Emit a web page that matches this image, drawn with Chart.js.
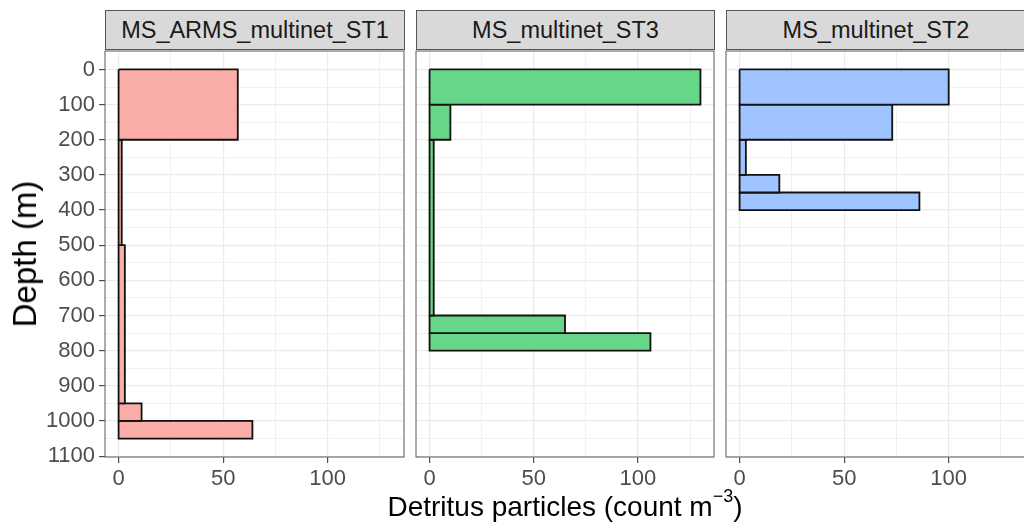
<!DOCTYPE html>
<html><head><meta charset="utf-8">
<script src="https://cdn.jsdelivr.net/npm/chart.js@4.4.1/dist/chart.umd.min.js"></script>
<style>
html,body{margin:0;padding:0;background:#fff;width:1024px;height:531px;overflow:hidden;position:relative;font-family:"Liberation Sans",Arial,sans-serif;}
.panel{position:absolute;top:50px;height:450px;}
.strip{position:absolute;top:10px;height:40px;background:#D9D9D9;border:1px solid #555;box-sizing:border-box;color:#1A1A1A;font-size:23.5px;line-height:38px;text-align:center;white-space:nowrap;}
#ytitle{position:absolute;left:25px;top:254px;transform:translate(-50%,-50%) rotate(-90deg);font-size:33px;color:#000;white-space:nowrap;}
#xtitle{position:absolute;left:565px;top:506px;transform:translate(-50%,-50%);font-size:28px;color:#000;white-space:nowrap;}
#xtitle sup{font-size:18px;position:relative;top:-3px;}
</style></head>
<body>
<div class="strip" id="s1" style="left:105px;width:300px;"></div>
<div class="strip" id="s2" style="left:416px;width:299px;"></div>
<div class="strip" id="s3" style="left:726px;width:300px;"></div>
<div class="panel" style="left:0px;width:406px;"><canvas id="c1"></canvas></div>
<div class="panel" style="left:414px;width:302px;"><canvas id="c2"></canvas></div>
<div class="panel" style="left:724px;width:303px;"><canvas id="c3"></canvas></div>
<div id="ytitle">Depth (m)</div>
<div id="xtitle">Detritus particles (count m<sup>−3</sup>)</div>
<script>
// ---- data ----
const categories = ['MS_ARMS_multinet_ST1', 'MS_multinet_ST3', 'MS_multinet_ST2'];
const st1DepthTop    = [0, 200, 500, 950, 1000];
const st1DepthBottom = [200, 500, 950, 1000, 1050];
const st1Values      = [57, 1.5, 3, 11, 64];
const st3DepthTop    = [0, 100, 200, 700, 750];
const st3DepthBottom = [100, 200, 700, 750, 800];
const st3Values      = [130, 10, 2, 65, 106];
const st2DepthTop    = [0, 100, 200, 300, 350];
const st2DepthBottom = [100, 200, 300, 350, 400];
const st2Values      = [100, 73, 3, 19, 86];
const xTickLabels = [0, 50, 100];
const xGridValues = [0, 25, 50, 75, 100, 125];
const yTickLabels = [0, 100, 200, 300, 400, 500, 600, 700, 800, 900, 1000, 1100];
const yGridValues = [0, 50, 100, 150, 200, 250, 300, 350, 400, 450, 500, 550, 600, 650, 700, 750, 800, 850, 900, 950, 1000, 1050, 1100];
const seriesColors = ['#FBADA7', '#66D688', '#A0C4FF'];

document.getElementById('s1').textContent = categories[0];
document.getElementById('s2').textContent = categories[1];
document.getElementById('s3').textContent = categories[2];

const panelBorder = {
  id: 'panelBorder',
  afterDatasetsDraw(chart) {
    const a = chart.chartArea, c = chart.ctx;
    c.save();
    c.strokeStyle = '#5a5a5a';
    c.lineWidth = 1;
    c.strokeRect(a.left, a.top, a.right - a.left, a.bottom - a.top);
    c.restore();
  }
};

const FONT = { size: 22, family: '"Liberation Sans", Arial, sans-serif' };

function makeChart(id, tops, bottoms, values, color, showY) {
  const datasets = values.map((v, i) => ({
    data: [
      {x: 0, y: tops[i]}, {x: v, y: tops[i]}, {x: v, y: bottoms[i]},
      {x: 0, y: bottoms[i]}, {x: 0, y: tops[i]}
    ],
    showLine: true,
    fill: 'shape',
    backgroundColor: color,
    borderColor: '#111111',
    borderWidth: 1.8,
    borderJoinStyle: 'miter',
    pointRadius: 0,
    pointHoverRadius: 0,
    tension: 0
  }));
  return new Chart(document.getElementById(id), {
    type: 'scatter',
    data: { datasets },
    plugins: [panelBorder],
    options: {
      responsive: true,
      maintainAspectRatio: false,
      animation: false,
      events: [],
      layout: { padding: { left: showY ? 0 : 2, right: 2, top: 1, bottom: 0 } },
      plugins: { legend: { display: false }, tooltip: { enabled: false } },
      scales: {
        x: {
          type: 'linear', min: -6.5, max: 136.5,
          border: { display: false },
          afterBuildTicks: s => { s.ticks = xGridValues.map(v => ({ value: v })); },
          ticks: {
            autoSkip: false, maxRotation: 0, minRotation: 0, padding: 3, includeBounds: false,
            color: '#4D4D4D', font: FONT,
            callback: v => xTickLabels.includes(v) ? String(v) : ''
          },
          grid: {
            color: '#EBEBEB',
            lineWidth: c => (c.tick && xTickLabels.includes(c.tick.value)) ? 1.2 : 0.7,
            tickColor: c => (c.tick && xTickLabels.includes(c.tick.value)) ? '#4D4D4D' : 'rgba(0,0,0,0)',
            tickWidth: 1.2,
            tickLength: 6
          },
          afterFit: s => { s.height = 43; s.paddingLeft = 0; s.paddingRight = 0; }
        },
        y: {
          type: 'linear', reverse: true, min: -52.5, max: 1102.5,
          border: { display: false },
          afterBuildTicks: s => { s.ticks = yGridValues.map(v => ({ value: v })); },
          ticks: {
            display: showY, autoSkip: false, includeBounds: false, padding: 4,
            color: '#4D4D4D', font: FONT,
            callback: v => yTickLabels.includes(v) ? String(v) : ''
          },
          grid: {
            color: '#EBEBEB',
            lineWidth: c => (c.tick && yTickLabels.includes(c.tick.value)) ? 1.2 : 0.7,
            tickColor: c => (c.tick && yTickLabels.includes(c.tick.value)) ? '#4D4D4D' : 'rgba(0,0,0,0)',
            tickWidth: 1.2,
            tickLength: 6,
            drawTicks: showY
          },
          afterFit: s => { s.width = showY ? 105 : 0; s.paddingTop = 0; s.paddingBottom = 0; }
        }
      }
    }
  });
}

makeChart('c1', st1DepthTop, st1DepthBottom, st1Values, seriesColors[0], true);
makeChart('c2', st3DepthTop, st3DepthBottom, st3Values, seriesColors[1], false);
makeChart('c3', st2DepthTop, st2DepthBottom, st2Values, seriesColors[2], false);
</script>
</body></html>
